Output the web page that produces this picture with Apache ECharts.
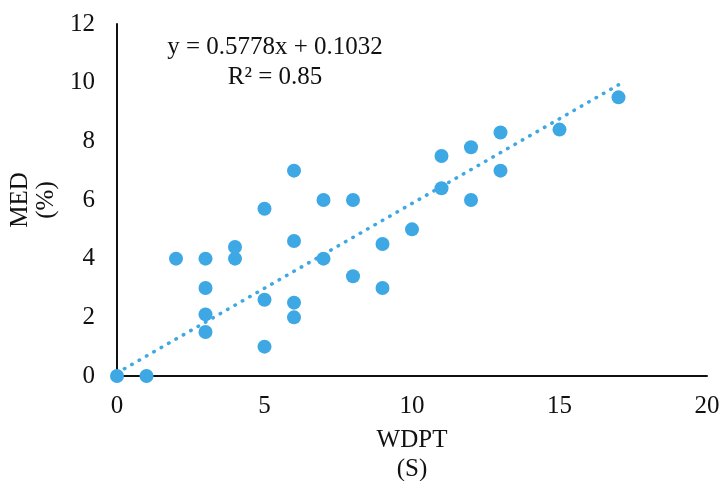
<!DOCTYPE html>
<html>
<head>
<meta charset="utf-8">
<script src="https://cdn.jsdelivr.net/npm/echarts@6/dist/echarts.min.js"></script>
<style>
  html, body { margin: 0; padding: 0; background: #fff; }
  #chart { width: 720px; height: 481px; }
</style>
</head>
<body>
<div id="chart"></div>
<script>
// WDPT (s) against MED (%)
var wdpt = [0, 1, 2, 3, 3, 3, 3, 4, 4, 5, 5, 5, 6, 6, 6, 6, 7, 7, 8, 8, 9, 9, 10, 11, 11, 12, 12, 13, 13, 15, 17];
var med = [0, 0, 4, 4, 3, 2.1, 1.5, 4.4, 4, 5.7, 2.6, 1, 7, 4.6, 2.5, 2, 6, 4, 6, 3.4, 4.5, 3, 5, 7.5, 6.4, 7.8, 6, 8.3, 7, 8.4, 9.5];
// trendline as printed on the chart
var slope = 0.5778, intercept = 0.1032;
var trendX = [0, 17];

var blue = "#3ea8e5";
var serif = "Liberation Serif";

var points = wdpt.map(function (x, i) { return [x, med[i]] });
var trend = trendX.map(function (x) { return [x, slope * x + intercept] });

var chart = echarts.init(document.getElementById("chart"));
chart.setOption({
  animation: false,
  textStyle: { fontFamily: serif, color: "#111" },
  grid: { left: 117, right: 13, top: 24, bottom: 105, containLabel: false, outerBoundsMode: "none" },
  xAxis: {
    type: "value", min: 0, max: 20, interval: 5,
    name: "WDPT\n(S)", nameLocation: "middle", nameGap: 50,
    nameTextStyle: { fontFamily: serif, fontSize: 25, color: "#111", lineHeight: 29 },
    axisLine: { lineStyle: { color: "#111", width: 2 } },
    axisTick: { show: false },
    splitLine: { show: false },
    axisLabel: { fontFamily: serif, fontSize: 25, color: "#111", margin: 18 }
  },
  yAxis: {
    type: "value", min: 0, max: 12, interval: 2,
    name: "MED\n(%)", nameLocation: "middle", nameGap: 57,
    nameTextStyle: { fontFamily: serif, fontSize: 25, color: "#111", lineHeight: 26 },
    axisLine: { show: true, lineStyle: { color: "#111", width: 2 } },
    axisTick: { show: false },
    splitLine: { show: false },
    axisLabel: { fontFamily: serif, fontSize: 25, color: "#111", margin: 22 }
  },
  graphic: [
    { type: "text", x: 275, y: 47, style: { text: "y = 0.5778x + 0.1032", font: "25px " + serif, fill: "#111", align: "center", verticalAlign: "middle" } },
    { type: "text", x: 275, y: 77, style: { text: "R² = 0.85", font: "25px " + serif, fill: "#111", align: "center", verticalAlign: "middle" } }
  ],
  series: [
    {
      type: "line", data: trend, symbol: "none", silent: true, z: 1,
      lineStyle: { color: blue, width: 3.5, type: [0.5, 8], cap: "round" }
    },
    {
      type: "scatter", data: points, symbolSize: 14, z: 2,
      itemStyle: { color: blue, opacity: 1 }
    }
  ]
});
</script>
</body>
</html>
